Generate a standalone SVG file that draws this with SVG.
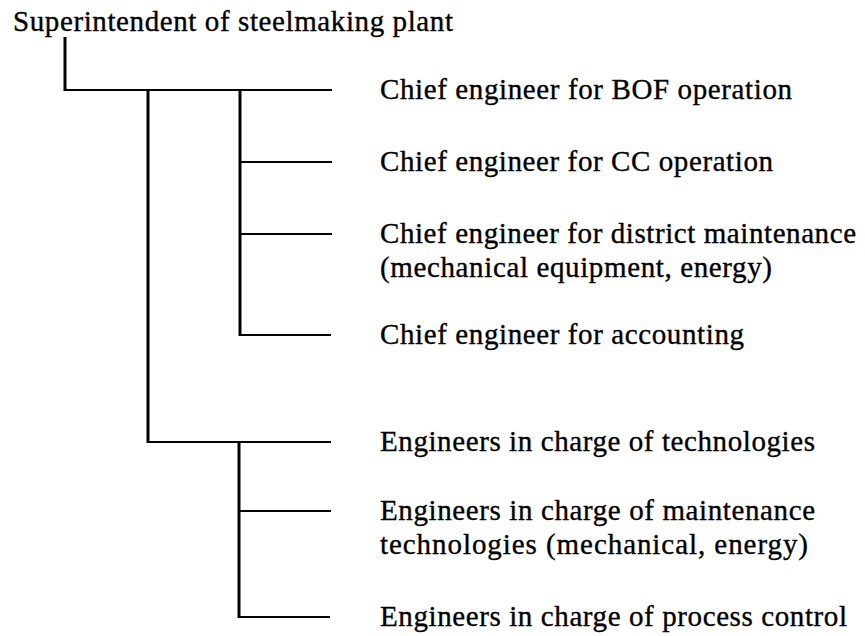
<svg xmlns="http://www.w3.org/2000/svg" width="865" height="636" viewBox="0 0 865 636">
<style>
text{font-family:"Liberation Serif","Times New Roman",serif;font-size:29px;fill:#000;stroke:#000;stroke-width:0.35}
.v{stroke:#000;stroke-width:3;fill:none}
.h{stroke:#000;stroke-width:2.2;fill:none}
</style>
<rect width="865" height="636" fill="#fff"/>
<g id="connectors">
<line class="v" x1="65" y1="37" x2="65" y2="91"/>
<line class="h" x1="64" y1="90" x2="332" y2="90"/>
<line class="v" x1="148" y1="90" x2="148" y2="443"/>
<line class="v" x1="240" y1="90" x2="240" y2="336"/>
<line class="h" x1="240" y1="162" x2="332" y2="162"/>
<line class="h" x1="240" y1="234" x2="332" y2="234"/>
<line class="h" x1="239" y1="335" x2="331" y2="335"/>
<line class="h" x1="147" y1="442" x2="331" y2="442"/>
<line class="v" x1="239" y1="442" x2="239" y2="618"/>
<line class="h" x1="239" y1="511" x2="331" y2="511"/>
<line class="h" x1="238" y1="617" x2="330" y2="617"/>
</g>
<g id="superintendent"><text x="13" y="31" textLength="440" lengthAdjust="spacing">Superintendent of steelmaking plant</text></g>
<g id="chief-bof"><text x="380" y="99" textLength="412" lengthAdjust="spacing">Chief engineer for BOF operation</text></g>
<g id="chief-cc"><text x="380" y="171" textLength="393" lengthAdjust="spacing">Chief engineer for CC operation</text></g>
<g id="chief-maintenance"><text x="380" y="243" textLength="476" lengthAdjust="spacing">Chief engineer for district maintenance</text><text x="380" y="277" textLength="392" lengthAdjust="spacing">(mechanical equipment, energy)</text></g>
<g id="chief-accounting"><text x="380" y="344" textLength="364" lengthAdjust="spacing">Chief engineer for accounting</text></g>
<g id="eng-technologies"><text x="380" y="451" textLength="435" lengthAdjust="spacing">Engineers in charge of technologies</text></g>
<g id="eng-maintenance"><text x="380" y="520" textLength="435" lengthAdjust="spacing">Engineers in charge of maintenance</text><text x="380" y="554" textLength="428" lengthAdjust="spacing">technologies (mechanical, energy)</text></g>
<g id="eng-process"><text x="380" y="626" textLength="467" lengthAdjust="spacing">Engineers in charge of process control</text></g>
</svg>
